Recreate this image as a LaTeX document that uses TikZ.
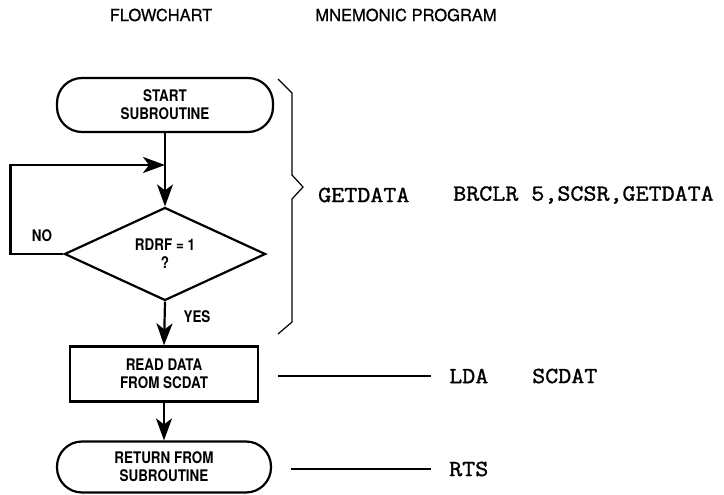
\documentclass[tikz,border=0pt]{standalone}
\usepackage{fontspec}
\setmainfont{TeX Gyre Heros}
\newfontfamily\headfont{TeX Gyre Heros}[FakeBold=0.6]
\newfontfamily\chartfont{TeX Gyre Heros}[FakeStretch=0.84]
\newfontfamily\codefont{Latin Modern Mono}[FakeStretch=1.1, FakeBold=1.4]
\usepackage{tikz}
\usetikzlibrary{positioning,arrows.meta,shapes.geometric}

\begin{document}
\begin{tikzpicture}[x=1pt, y=-1pt,
  head/.style={font=\headfont\fontsize{16.5}{18}\selectfont, inner sep=0pt},
  terminal/.style={draw, line width=2.2pt, rounded corners=25pt, align=center, inner sep=0pt, font=\chartfont\bfseries\fontsize{16}{18}\selectfont},
  process/.style={draw, line width=2.2pt, align=center, inner sep=0pt, font=\chartfont\bfseries\fontsize{16}{18}\selectfont},
  decision/.style={draw, diamond, line width=2.2pt, align=center, inner sep=0pt, aspect=2.15, font=\chartfont\bfseries\fontsize{16}{18}\selectfont},
  branch/.style={font=\chartfont\bfseries\fontsize{16}{18}\selectfont, inner sep=0pt},
  code/.style={font=\codefont\fontsize{23}{24}\selectfont, anchor=west, inner sep=0pt},
  flow/.style={-{Stealth[length=22pt, width=16pt, inset=6pt]}, line width=2.2pt},
  tie/.style={line width=1.3pt}]
  \useasboundingbox (0,0) rectangle (724,495);
  \node[head] (fchead) at (161,15) {FLOWCHART};
  \node[head] (mnhead) at (406,15) {MNEMONIC PROGRAM};
  \node[terminal, minimum width=216pt, minimum height=54pt] (start) at (165,105) {START\\SUBROUTINE};
  \node[decision, minimum width=201pt, minimum height=93pt] (test) at (165,254) {RDRF = 1\\?};
  \node[process, minimum width=188pt, minimum height=55pt] (read) at (164,374) {READ DATA\\FROM SCDAT};
  \node[terminal, minimum width=214pt, minimum height=51pt] (ret) at (164,467) {RETURN FROM\\SUBROUTINE};
  \coordinate (join) at (165,165);
  \draw[flow] (start.south) -- (test.north);
  \draw[flow] (test.west) -- ++(-53,0) |- (join);
  \draw[flow] (test.south) -- (read.north);
  \draw[flow] (read.south) -- (ret.north);
  \node[branch] (no) at (42,236) {NO};
  \node[branch] (yes) at (197,317) {YES};
  \draw[line width=1.2pt] (278,79) -- (292,93) -- (292,175) -- (303,187) -- (292,199) -- (292,322) -- (278,334);
  \node[code] (getdata) at (318,195) {GETDATA};
  \node[code] (brclr) at (453,195) {BRCLR 5,SCSR,GETDATA};
  \node[code] (lda) at (449,376) {LDA};
  \node[code] (scdat) at (532,376) {SCDAT};
  \node[code] (rts) at (449,469) {RTS};
  \draw[tie] ([xshift=19pt]read.east |- lda.west) -- ([xshift=-18pt]lda.west);
  \draw[tie] ([xshift=19pt]ret.east |- rts.west) -- ([xshift=-18pt]rts.west);
\end{tikzpicture}
\end{document}
